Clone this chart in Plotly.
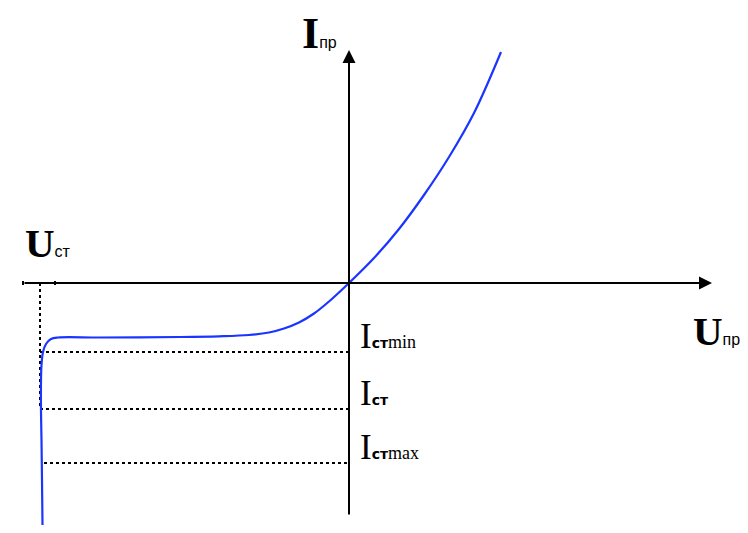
import plotly.graph_objects as go

# Characteristic curve (U, I) in diagram units (origin at axes crossing)
u_curve = [-306.5, -307, -307.5, -308, -308, -307.5, -306, -303, -298, -291,
           -249, -169, -130, -100, -80, -65, -50, -35, -20, 0,
           25, 50, 75, 100, 125, 152]
i_curve = [-242, -197, -157, -127, -97, -82, -69, -61, -56, -54.5,
           -54.5, -54, -53.3, -52, -49.5, -45.5, -39.5, -30.5, -18.5, 0,
           25, 54, 88, 126, 170, 231]

# Stabilization current levels and the stabilization voltage
i_levels = [-69, -126, -180]
u_level_start = [-309, -309, -305]
level_labels = ["min", "", "max"]
u_st = -309

# page body has an 8px margin; ranges keep origin at (349, 283) on screen
X_RANGE = [-341, 407]
Y_RANGE = [-258, 275]

fig = go.Figure()

# dotted level lines
for u0, il in zip(u_level_start, i_levels):
    fig.add_trace(go.Scatter(x=[u0, 0], y=[il, il], mode="lines",
                             line=dict(color="black", width=2, dash="dot"),
                             hoverinfo="skip", showlegend=False))
# vertical dotted line at U_st
fig.add_trace(go.Scatter(x=[u_st, u_st], y=[0, i_levels[1]], mode="lines",
                         line=dict(color="black", width=2, dash="dot"),
                         hoverinfo="skip", showlegend=False))

# axes (lines + arrowheads)
AX = dict(showarrow=True, arrowhead=2, arrowsize=1.3, arrowwidth=2, arrowcolor="black",
          axref="x", ayref="y", xref="x", yref="y", text="", standoff=0, startstandoff=0)
fig.add_annotation(x=363, y=0, ax=-326, ay=0, **AX)
fig.add_annotation(x=0, y=233, ax=0, ay=-233, **AX)
# tick marks on horizontal axis
fig.add_shape(type="line", x0=-294, x1=-294, y0=-2, y1=2, line=dict(color="black", width=2))
fig.add_shape(type="line", x0=-326, x1=-326, y0=-2, y1=2, line=dict(color="black", width=2))

# curve
fig.add_trace(go.Scatter(x=u_curve, y=i_curve, mode="lines",
                         line=dict(color="#1a35ff", width=2.2, shape="spline", smoothing=1),
                         hoverinfo="skip", showlegend=False))

SERIF = "Liberation Serif"
SANS = "Liberation Sans"

def big(letter, sub):
    return f"<b>{letter}</b><span style='font-family:{SANS};font-size:16px'>{sub}</span>"

fig.add_annotation(x=-326, y=40, text=big("U", "ст"), showarrow=False, xanchor="left",
                   yanchor="middle", font=dict(family=SERIF, size=41, color="black"))
fig.add_annotation(x=-49, y=250, text=big("I", "пр"), showarrow=False, xanchor="left",
                   yanchor="middle", font=dict(family=SERIF, size=44, color="black"))
fig.add_annotation(x=342, y=-48, text=big("U", "пр"), showarrow=False, xanchor="left",
                   yanchor="middle", font=dict(family=SERIF, size=41, color="black"))

for il, lab in zip(i_levels, level_labels):
    txt = ("I<span style='font-family:DejaVu Sans;font-weight:bold;font-size:14px'>ст</span>"
           f"<span style='font-size:18px'>{lab}</span>")
    fig.add_annotation(x=9, y=il + 16, text=txt, showarrow=False, xanchor="left",
                       yanchor="middle", font=dict(family=SERIF, size=35, color="black"))

fig.update_layout(
    width=748, height=533, margin=dict(l=0, r=0, t=0, b=0),
    paper_bgcolor="white", plot_bgcolor="white",
    xaxis=dict(range=X_RANGE, visible=False, fixedrange=True),
    yaxis=dict(range=Y_RANGE, visible=False, fixedrange=True),
)

fig.write_html("out.html")
